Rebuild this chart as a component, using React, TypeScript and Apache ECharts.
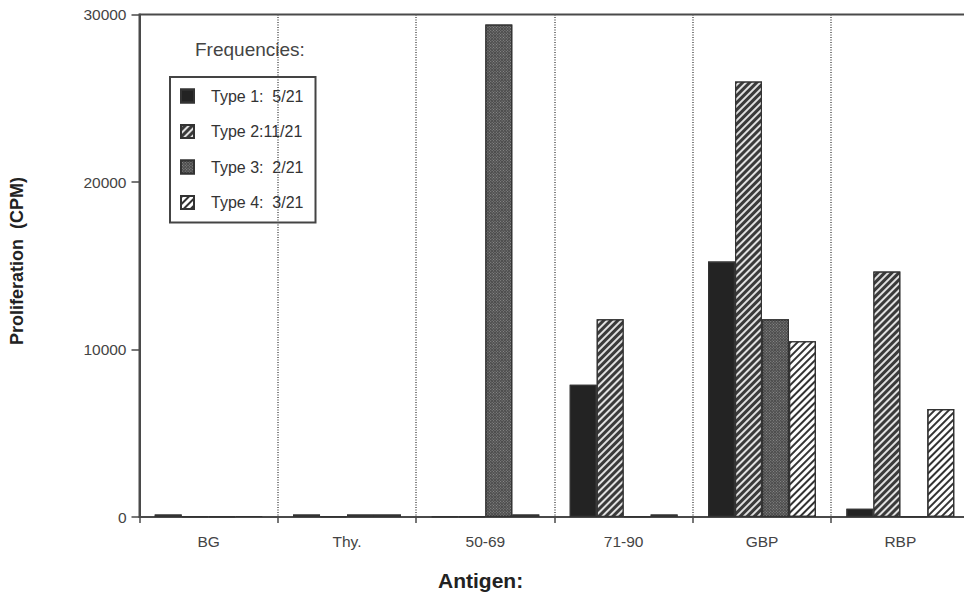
import React, { useEffect, useRef } from "react";
import * as echarts from "echarts";

const categories = ["BG", "Thy.", "50-69", "71-90", "GBP", "RBP"];
const seriesNames = ["Type 1", "Type 2", "Type 3", "Type 4"];
const legendLabels = ["Type 1:  5/21", "Type 2:11/21", "Type 3:  2/21", "Type 4:  3/21"];
const type1 = [150, 150, 50, 7900, 15250, 500];
const type2 = [50, 50, 50, 11800, 26000, 14650];
const type3 = [50, 150, 29400, 50, 11800, 50];
const type4 = [60, 150, 150, 150, 10500, 6450];
const yTicks = [0, 10000, 20000, 30000];

const FONT = "Liberation Sans, Arial, Helvetica, sans-serif";

export default function App() {
  const ref = useRef<HTMLDivElement>(null);
  useEffect(() => {
    document.body.style.margin = "0";
    const chart = echarts.init(ref.current!, null, { renderer: "svg" });
    const styles = [
      { color: "#232323", decal: { symbol: "none", color: "rgba(0,0,0,0)" } },
      {
        color: "#3a3a3a",
        decal: { symbol: "rect", symbolSize: 1, color: "#e0e0e0", dashArrayX: [1, 0], dashArrayY: [2, 3], rotation: -Math.PI / 4 },
      },
      {
        color: "#4c4c4c",
        decal: { symbol: "rect", symbolSize: 1, color: "#8e8e8e", dashArrayX: [1, 1], dashArrayY: [1, 1], rotation: Math.PI / 4 },
      },
      {
        color: "#ffffff",
        decal: { symbol: "rect", symbolSize: 1, color: "#333333", dashArrayX: [1, 0], dashArrayY: [2, 3], rotation: -Math.PI / 4 },
      },
    ];
    const data = [type1, type2, type3, type4];
    const labelMap: Record<string, string> = {};
    seriesNames.forEach((n, i) => (labelMap[n] = legendLabels[i]));
    chart.setOption({
      animation: false,
      aria: { enabled: true, decal: { show: true } },
      textStyle: { fontFamily: FONT },
      grid: {
        left: 139.5,
        top: 14.5,
        width: 830,
        bottom: 79,
        show: true,
        borderColor: "#4a4a4a",
        borderWidth: 2,
        containLabel: false,
      },
      title: {
        text: "Frequencies:",
        left: 190,
        top: 35,
        textStyle: { fontFamily: FONT, fontSize: 19, fontWeight: "normal", color: "#444" },
      },
      legend: {
        data: seriesNames,
        orient: "vertical",
        left: 170,
        top: 77,
        itemWidth: 13,
        itemHeight: 13,
        itemGap: 19.5,
        padding: [11, 12, 12, 10],
        borderColor: "#444",
        borderWidth: 2,
        icon: "rect",
        formatter: (name: string) => labelMap[name],
        textStyle: { fontFamily: FONT, fontSize: 16, color: "#333", padding: [0, 0, 0, 12] },
      },
      xAxis: {
        type: "category",
        data: categories,
        axisLine: { lineStyle: { color: "#4a4a4a", width: 2 } },
        axisTick: { show: true, length: 6, lineStyle: { color: "#4a4a4a", width: 1.5 } },
        axisLabel: { fontFamily: FONT, fontSize: 15.5, color: "#444", margin: 16 },
        splitLine: { show: true, lineStyle: { color: "#555", type: [1, 1.5], width: 1.5 } },
      },
      yAxis: {
        type: "value",
        min: 0,
        max: 30000,
        interval: 10000,
        axisLine: { show: true, lineStyle: { color: "#4a4a4a", width: 2 } },
        axisTick: { show: true, length: 8, lineStyle: { color: "#4a4a4a", width: 1.5 } },
        axisLabel: {
          fontFamily: FONT,
          fontSize: 15.5,
          color: "#444",
          margin: 13,
          formatter: (v: number) => (yTicks.includes(v) ? String(v) : ""),
        },
        splitLine: { show: false },
      },
      graphic: [
        {
          type: "text",
          left: 438,
          top: 570,
          style: { text: "Antigen:", font: `bold 21px ${FONT}`, fill: "#222" },
        },
        {
          type: "text",
          x: 8,
          y: 345,
          rotation: Math.PI / 2,
          style: { text: "Proliferation  (CPM)", font: `bold 18px ${FONT}`, fill: "#222" },
        },
      ],
      series: seriesNames.map((name, i) => ({
        name,
        type: "bar",
        data: data[i],
        barGap: "0%",
        barCategoryGap: "22%",
        itemStyle: { color: styles[i].color, borderColor: "#333", borderWidth: 1.2, decal: styles[i].decal },
      })),
    });
    return () => chart.dispose();
  }, []);
  return (
    <div style={{ width: 964, height: 596, position: "absolute", left: 0, top: 0, overflow: "hidden" }}>
      <div ref={ref} style={{ width: 972, height: 596 }} />
    </div>
  );
}
